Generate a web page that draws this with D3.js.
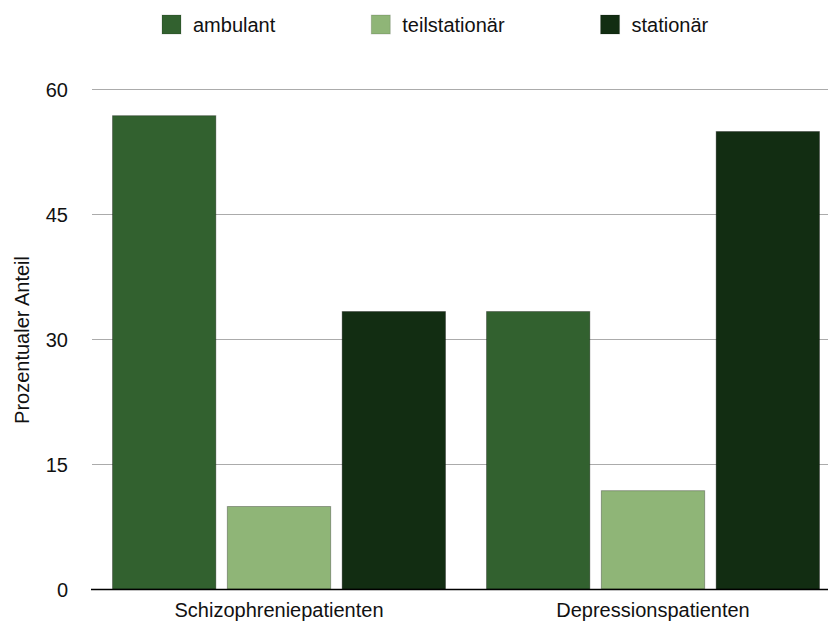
<!DOCTYPE html>
<html>
<head>
<meta charset="utf-8">
<script src="https://cdn.jsdelivr.net/npm/d3@7"></script>
<style>
  html, body { margin: 0; padding: 0; background: #fff; }
  svg { display: block; font-family: "Liberation Sans", Arial, Helvetica, sans-serif; }
</style>
</head>
<body>
<svg id="chart" width="828" height="622"></svg>
<script>
// Patient groups and care settings (percent share)
const categories = ["Schizophreniepatienten", "Depressionspatienten"];
const seriesNames = ["ambulant", "teilstationär", "stationär"];
const ambulant = [56.8, 33.3];
const teilstationaer = [9.9, 11.8];
const stationaer = [33.3, 54.9];
const seriesValues = [ambulant, teilstationaer, stationaer];
const yTicks = [0, 15, 30, 45, 60];
const colors = ["#32612f", "#8fb577", "#122d12"];
const yTitle = "Prozentualer Anteil";

const svg = d3.select("#chart");
const W = 828;
const plotLeft = 92, plotRight = 840, plotTop = 89, plotBottom = 589;

const x0 = d3.scaleBand().domain(categories).range([plotLeft, plotRight]).padding(0);
const x1 = d3.scaleBand().domain(seriesNames)
  .range([20.5, x0.bandwidth() - 20.5]).paddingInner(0.1).paddingOuter(0);
const y = d3.scaleLinear().domain([0, 60]).range([plotBottom, plotTop]);
const color = d3.scaleOrdinal().domain(seriesNames).range(colors);

// horizontal gridlines
svg.append("g")
  .selectAll("line")
  .data(yTicks.filter(d => d !== 0))
  .join("line")
  .attr("x1", plotLeft).attr("x2", W)
  .attr("y1", d => y(d) + 0.5).attr("y2", d => y(d) + 0.5)
  .attr("stroke", "#ababab").attr("stroke-width", 1);

// y tick labels
const yAxis = d3.axisLeft(y).tickValues(yTicks).tickSize(0).tickPadding(0);
const gy = svg.append("g").attr("transform", "translate(68,0)").call(yAxis);
gy.select(".domain").remove();
gy.selectAll("text")
  .attr("font-family", "'Liberation Sans', Arial, sans-serif")
  .attr("font-size", 20).attr("fill", "#111").attr("dy", "0.35em");

// bars
const rows = categories.map((c, i) => ({
  cat: c,
  vals: seriesNames.map((s, j) => ({ series: s, value: seriesValues[j][i] }))
}));

const groups = svg.append("g").selectAll("g")
  .data(rows).join("g")
  .attr("transform", d => `translate(${x0(d.cat)},0)`);

groups.selectAll("rect")
  .data(d => d.vals).join("rect")
  .attr("x", d => x1(d.series))
  .attr("y", d => y(d.value))
  .attr("width", x1.bandwidth())
  .attr("height", d => y(0) - y(d.value))
  .attr("fill", d => color(d.series))
  .attr("stroke", "rgba(0,0,0,0.3)")
  .attr("stroke-width", 1);

// baseline axis
svg.append("line")
  .attr("x1", plotLeft - 1).attr("x2", W)
  .attr("y1", plotBottom + 0.5).attr("y2", plotBottom + 0.5)
  .attr("stroke", "#000").attr("stroke-width", 1.6);

// category labels
const xAxis = d3.axisBottom(x0).tickSize(0).tickPadding(0);
const gx = svg.append("g").attr("transform", `translate(0,${plotBottom})`).call(xAxis);
gx.select(".domain").remove();
gx.selectAll("text")
  .attr("font-family", "'Liberation Sans', Arial, sans-serif")
  .attr("font-size", 20).attr("fill", "#111")
  .attr("y", 28).attr("dy", 0);

// y axis title
svg.append("text")
  .attr("transform", "translate(29,340) rotate(-90)")
  .attr("text-anchor", "middle")
  .attr("font-size", 20).attr("fill", "#111")
  .text(yTitle);

// legend
const legend = svg.append("g").attr("transform", "translate(162,15)");
let lx = 0;
seriesNames.forEach((s, i) => {
  const g = legend.append("g").attr("transform", `translate(${lx},0)`);
  g.append("rect").attr("width", 19).attr("height", 19)
    .attr("fill", colors[i]).attr("stroke", "rgba(0,0,0,0.15)");
  const t = g.append("text").attr("x", 31).attr("y", 17)
    .attr("font-size", 20).attr("fill", "#111").text(s);
  lx += 31 + t.node().getComputedTextLength() + 96;
});
</script>
</body>
</html>
